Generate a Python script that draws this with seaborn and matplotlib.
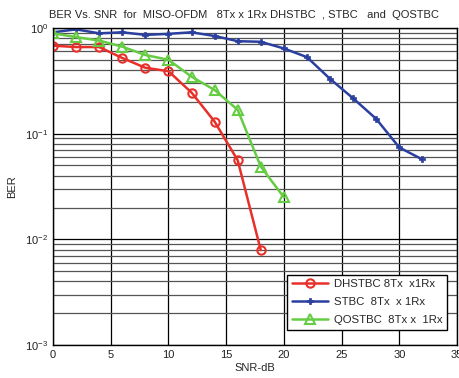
import numpy as np
import pandas as pd
import matplotlib
matplotlib.use("Agg")
import matplotlib.pyplot as plt
import seaborn as sns
from matplotlib.ticker import LogLocator, FixedLocator

sns.set_style("white")
plt.rcParams['font.family'] = ['Liberation Sans', 'DejaVu Sans']

snr_dh = [0, 2, 4, 6, 8, 10, 12, 14, 16, 18]
ber_dh = [0.68, 0.66, 0.66, 0.52, 0.42, 0.39, 0.245, 0.13, 0.056, 0.0079]

snr_stbc = [0, 2, 4, 6, 8, 10, 12, 14, 16, 18, 20, 22, 24, 26, 28, 30, 32]
ber_stbc = [0.91, 0.97, 0.89, 0.91, 0.86, 0.88, 0.91, 0.84, 0.75, 0.74,
            0.64, 0.53, 0.33, 0.216, 0.138, 0.074, 0.057]

snr_q = [0, 2, 4, 6, 8, 10, 12, 14, 16, 18, 20]
ber_q = [0.89, 0.82, 0.76, 0.665, 0.555, 0.50, 0.346, 0.259, 0.168, 0.0488, 0.025]

labels = ["DHSTBC 8Tx  x1Rx", "STBC  8Tx  x 1Rx", "QOSTBC  8Tx x  1Rx"]
xticks = [0, 5, 10, 15, 20, 25, 30, 35]

df = pd.concat([
    pd.DataFrame({"snr": snr_dh, "ber": ber_dh, "scheme": labels[0]}),
    pd.DataFrame({"snr": snr_stbc, "ber": ber_stbc, "scheme": labels[1]}),
    pd.DataFrame({"snr": snr_q, "ber": ber_q, "scheme": labels[2]}),
])

colors = {labels[0]: "#e8302a", labels[1]: "#2b3f9e", labels[2]: "#66cc44"}

fig = plt.figure(figsize=(4.59, 3.78), dpi=100)
ax = fig.add_axes([0.1155, 0.0873, 0.8801, 0.8387])

ax.set_yscale("log")
styles = {
    labels[0]: dict(marker="o", ms=6, mfc="none", mew=1.5),
    labels[1]: dict(marker="P", ms=5, mew=0.5),
    labels[2]: dict(marker="^", ms=7.5, mfc="none", mew=1.5),
}
for lab in labels:
    sub = df[df.scheme == lab]
    sns.lineplot(data=sub, x="snr", y="ber", ax=ax, color=colors[lab],
                 lw=1.8, label=lab, mec=colors[lab], **styles[lab])

ax.set_xlim(0, 35)
ax.set_ylim(1e-3, 1)
ax.xaxis.set_major_locator(FixedLocator(xticks))
ax.yaxis.set_major_locator(LogLocator(base=10, numticks=10))
ax.yaxis.set_minor_locator(LogLocator(base=10, subs=np.arange(2, 10), numticks=20))
ax.grid(True, which="major", color="black", lw=0.9, ls="-")
ax.grid(True, which="minor", axis="y", color="#555555", lw=0.9, ls="-")
ax.set_axisbelow(True)
ax.tick_params(axis="both", which="both", direction="in", labelsize=8,
               colors="#222222")
ax.tick_params(axis="both", which="major", length=3)
ax.tick_params(axis="y", which="minor", length=2)
for s in ax.spines.values():
    s.set_color("black")
    s.set_linewidth(1.0)

ax.set_xlabel("SNR-dB", fontsize=8, labelpad=2)
ax.set_ylabel("BER", fontsize=8, labelpad=6)
ax.set_title("BER Vs. SNR  for  MISO-OFDM   8Tx x 1Rx DHSTBC  , STBC   and  QOSTBC",
             fontsize=8, pad=7, loc="left", x=-0.01)

leg = ax.legend(loc="lower right", bbox_to_anchor=(0.99, 0.03), fontsize=8.2,
                frameon=True, fancybox=False, edgecolor="black",
                framealpha=1, handlelength=3.2, handletextpad=0.5,
                borderpad=0.4, labelspacing=0.7)
leg.get_frame().set_linewidth(1.0)

fig.savefig("out.png", dpi=100)
